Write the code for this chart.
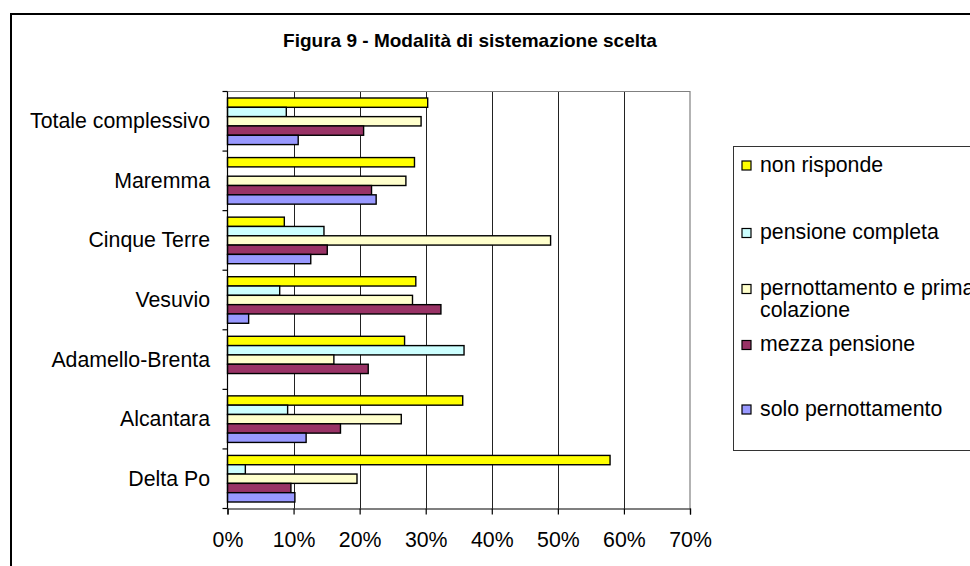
<!DOCTYPE html>
<html>
<head>
<meta charset="utf-8">
<script src="https://cdn.jsdelivr.net/npm/d3@7"></script>
<style>
  html, body { margin: 0; padding: 0; background: #fff; overflow: hidden; }
  svg { display: block; font-family: Arial, "Liberation Sans", sans-serif; }
</style>
</head>
<body>
<div id="graphics-box"></div>
<script>
// DATA (percentages)
const categories = [
  "Totale complessivo",
  "Maremma",
  "Cinque Terre",
  "Vesuvio",
  "Adamello-Brenta",
  "Alcantara",
  "Delta Po"
];
const seriesNames = [
  "non risponde",
  "pensione completa",
  "pernottamento e prima colazione",
  "mezza pensione",
  "solo pernottamento"
];
const nonRisponde = [30.3, 28.3, 8.6, 28.5, 26.8, 35.6, 57.9];
const pensioneCompleta = [8.9, null, 14.6, 7.9, 35.8, 9.1, 2.7];
const pernottamentoColazione = [29.3, 27.0, 48.9, 28.0, 16.1, 26.3, 19.6];
const mezzaPensione = [20.6, 21.8, 15.1, 32.3, 21.3, 17.1, 9.6];
const soloPernottamento = [10.7, 22.5, 12.6, 3.2, null, 11.9, 10.2];
const xTicks = [0, 10, 20, 30, 40, 50, 60, 70];
const titleText = "Figura 9 - Modalità di sistemazione scelta";

const seriesValues = [
  nonRisponde,
  pensioneCompleta,
  pernottamentoColazione,
  mezzaPensione,
  soloPernottamento
];
const colors = ["#ffff00", "#ccffff", "#ffffcc", "#993366", "#9999ff"];

// SVG SIZE
const w = 970;
const h = 566;
const labelSize = "21.3px";

const svg = d3
  .select("#graphics-box")
  .append("svg")
  .attr("width", w)
  .attr("height", h);

// CHART FRAME
svg
  .append("rect")
  .attr("x", 11)
  .attr("y", 14)
  .attr("width", 1000)
  .attr("height", 600)
  .attr("fill", "#fff")
  .attr("stroke", "#000")
  .attr("stroke-width", 2);

// TITLE
svg
  .append("text")
  .attr("x", 470)
  .attr("y", 47)
  .attr("text-anchor", "middle")
  .style("font-size", "19px")
  .style("font-weight", "bold")
  .text(titleText);

// PLOT AREA
const plot = { left: 227.5, right: 690, top: 91.5, bottom: 508.5 };

const xScale = d3
  .scaleLinear()
  .domain([0, 70])
  .range([plot.left, plot.right]);

const yScale = d3
  .scaleBand()
  .domain(categories)
  .range([plot.top, plot.bottom])
  .padding(0);

const groupPad = 6.5;
const barScale = d3
  .scaleBand()
  .domain(d3.range(seriesNames.length))
  .range([groupPad, yScale.bandwidth() - groupPad])
  .padding(0);

// GRIDLINES
svg
  .append("g")
  .selectAll("line")
  .data(xTicks.slice(1, -1))
  .enter()
  .append("line")
  .attr("x1", (d) => Math.round(xScale(d)) + 0.5)
  .attr("x2", (d) => Math.round(xScale(d)) + 0.5)
  .attr("y1", plot.top)
  .attr("y2", plot.bottom)
  .attr("stroke", "#222")
  .attr("stroke-width", 1);

// TOP AND RIGHT BORDER OF PLOT
svg
  .append("path")
  .attr(
    "d",
    "M" + plot.left + "," + plot.top +
    "H" + plot.right + "V" + plot.bottom
  )
  .attr("fill", "none")
  .attr("stroke", "#808080")
  .attr("stroke-width", 1.2);

// BARS
const rows = [];
seriesValues.forEach((vals, s) => {
  vals.forEach((v, c) => {
    if (v) rows.push({ s: s, cat: categories[c], v: v });
  });
});

svg
  .append("g")
  .selectAll("rect")
  .data(rows)
  .enter()
  .append("rect")
  .attr("x", xScale(0))
  .attr("y", (d) => yScale(d.cat) + barScale(d.s))
  .attr("width", (d) => xScale(d.v) - xScale(0))
  .attr("height", barScale.bandwidth())
  .attr("fill", (d) => colors[d.s])
  .attr("stroke", "#000")
  .attr("stroke-width", 1.4);

// Y AXIS (category boundaries as ticks)
const yAxisG = svg.append("g");
yAxisG
  .append("line")
  .attr("x1", plot.left)
  .attr("x2", plot.left)
  .attr("y1", plot.top)
  .attr("y2", plot.bottom)
  .attr("stroke", "#000")
  .attr("stroke-width", 1.2);
yAxisG
  .selectAll(".ytick")
  .data(categories.concat(["end"]))
  .enter()
  .append("line")
  .attr("class", "ytick")
  .attr("x1", plot.left - 5)
  .attr("x2", plot.left)
  .attr("y1", (d, i) => (i < categories.length ? yScale(d) : plot.bottom))
  .attr("y2", (d, i) => (i < categories.length ? yScale(d) : plot.bottom))
  .attr("stroke", "#000")
  .attr("stroke-width", 1.2);
yAxisG
  .selectAll(".ylabel")
  .data(categories)
  .enter()
  .append("text")
  .attr("class", "ylabel")
  .attr("x", 210)
  .attr("y", (d) => yScale(d) + yScale.bandwidth() / 2)
  .attr("dy", "0.33em")
  .attr("text-anchor", "end")
  .style("font-size", labelSize)
  .text((d) => d);

// X AXIS
const xAxis = d3
  .axisBottom(xScale)
  .tickValues(xTicks)
  .tickSize(6)
  .tickPadding(17)
  .tickFormat((d) => d + "%");

const xAxisG = svg
  .append("g")
  .attr("transform", "translate(0," + plot.bottom + ")")
  .call(xAxis);
xAxisG.select(".domain").attr("stroke", "#000").attr("stroke-width", 1.2);
xAxisG.selectAll(".tick line").attr("stroke", "#000").attr("stroke-width", 1.2);
xAxisG
  .selectAll(".tick text")
  .attr("fill", "#000")
  .style("font-size", labelSize)
  .style("font-family", "Arial, 'Liberation Sans', sans-serif");

// LEGEND
svg
  .append("rect")
  .attr("x", 733.5)
  .attr("y", 146.5)
  .attr("width", 400)
  .attr("height", 304)
  .attr("fill", "#fff")
  .attr("stroke", "#333")
  .attr("stroke-width", 1);

const legendBaselines = [171.5, 239, 295, 351, 415.5];
const legendLines = [
  ["non risponde"],
  ["pensione completa"],
  ["pernottamento e prima", "colazione"],
  ["mezza pensione"],
  ["solo pernottamento"]
];

const legendItems = svg
  .append("g")
  .selectAll("g")
  .data(seriesNames)
  .enter()
  .append("g");

legendItems
  .append("rect")
  .attr("x", 742)
  .attr("y", (d, i) => legendBaselines[i] - 10.5)
  .attr("width", 9)
  .attr("height", 9)
  .attr("fill", (d, i) => colors[i])
  .attr("stroke", "#000")
  .attr("stroke-width", 1.2);

legendItems
  .append("text")
  .attr("x", 760)
  .attr("y", (d, i) => legendBaselines[i])
  .style("font-size", labelSize)
  .selectAll("tspan")
  .data((d, i) => legendLines[i])
  .enter()
  .append("tspan")
  .attr("x", 760)
  .attr("dy", (d, j) => (j === 0 ? 0 : 21.7))
  .text((d) => d);
</script>
</body>
</html>
